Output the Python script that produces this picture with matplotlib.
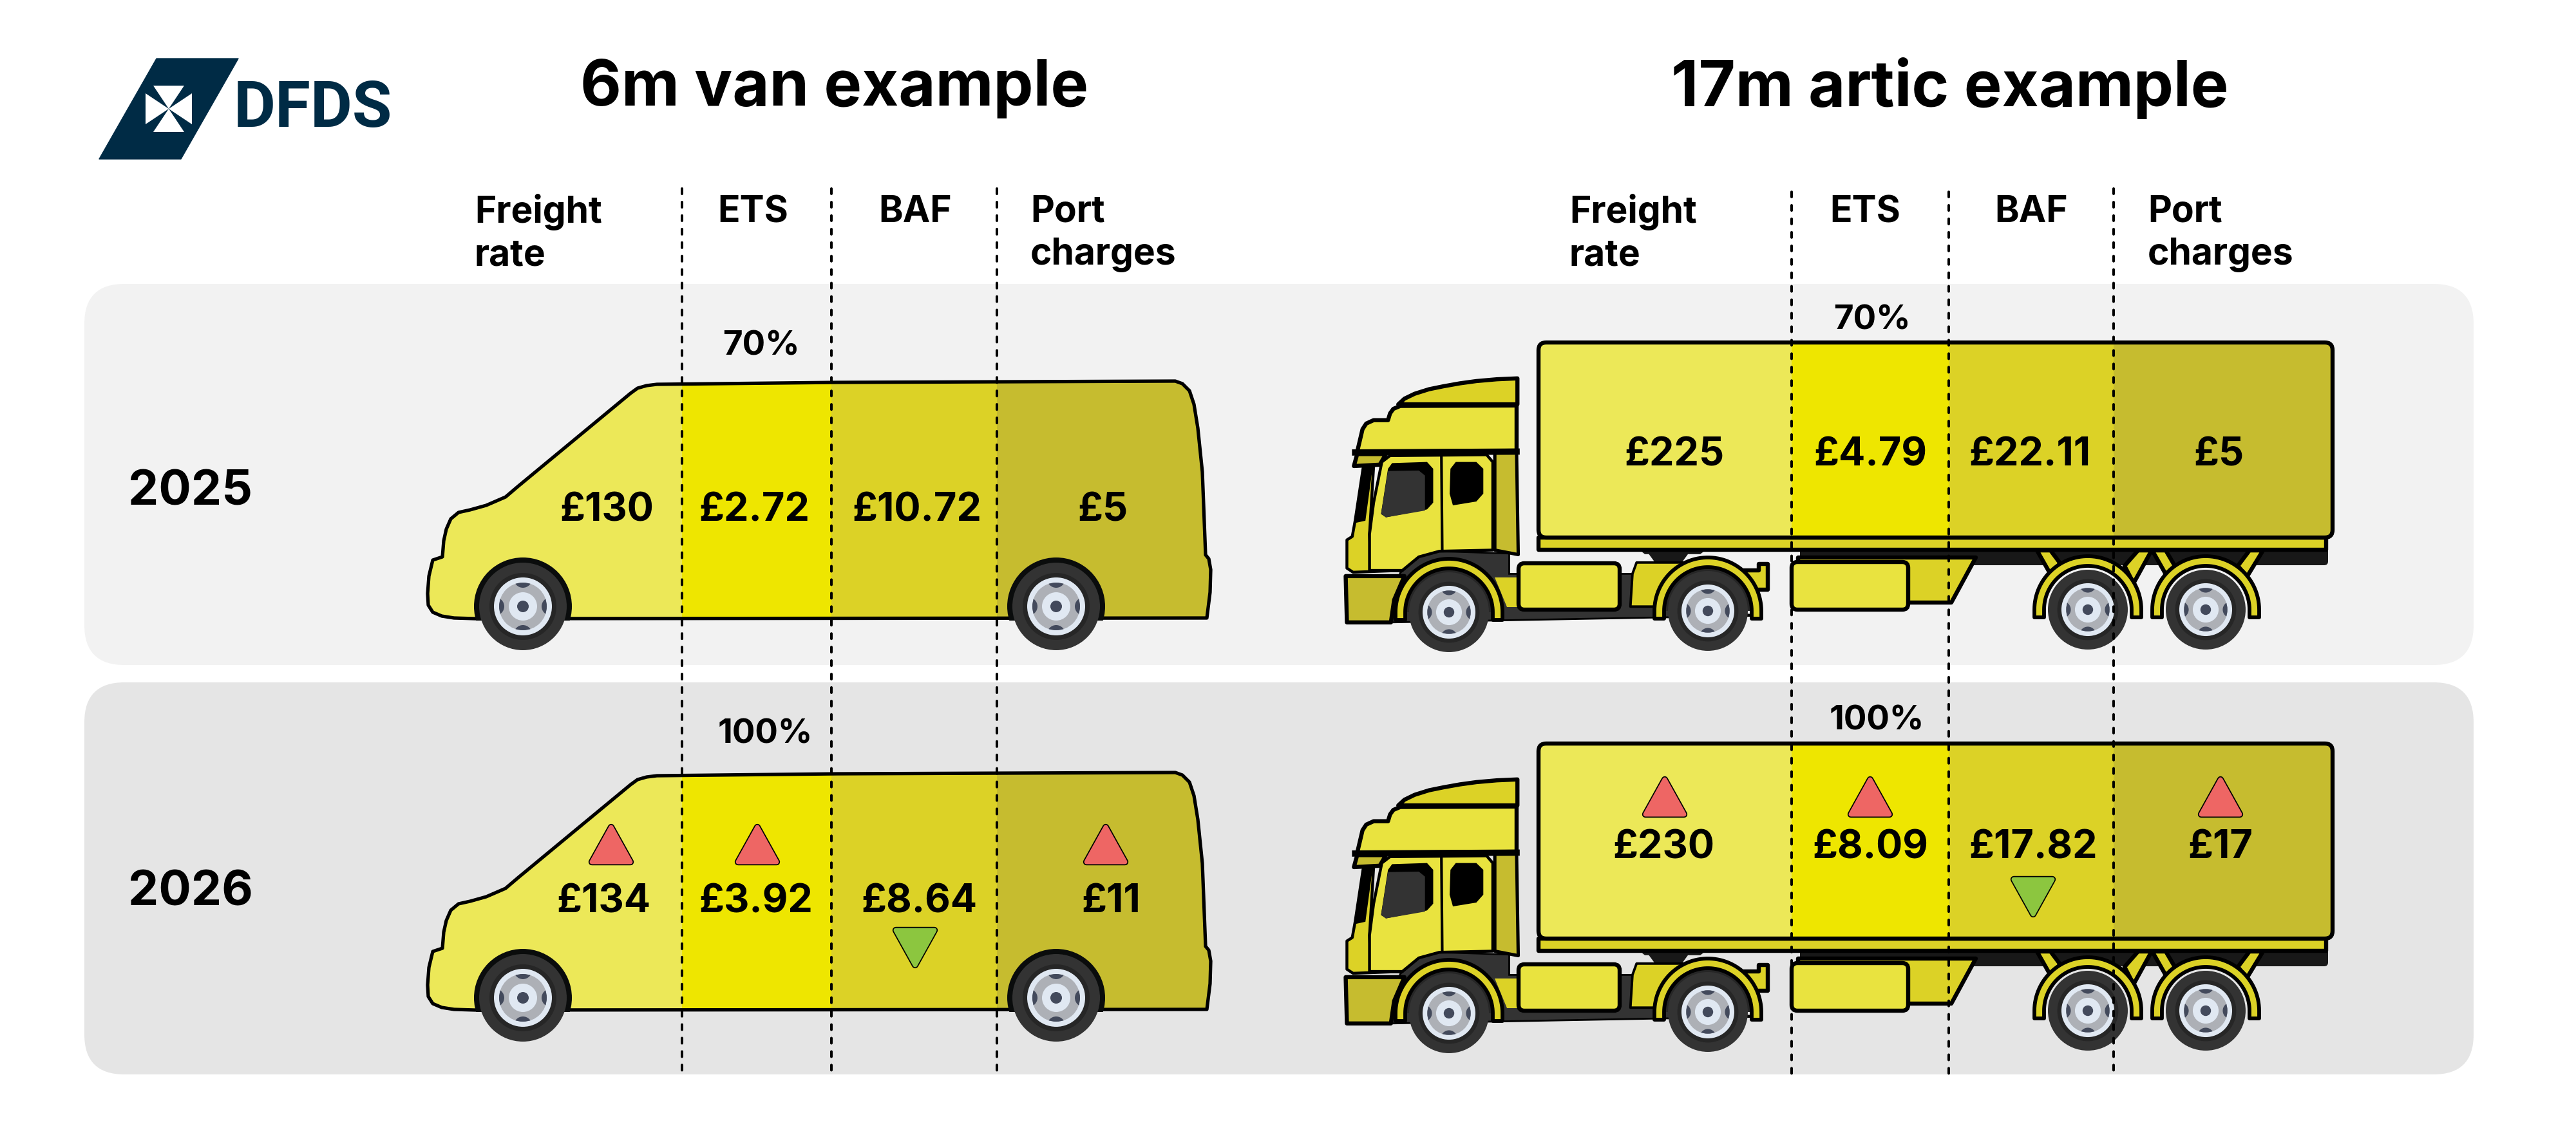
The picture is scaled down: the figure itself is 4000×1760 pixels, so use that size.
import numpy as np
import matplotlib
matplotlib.use("Agg")
import matplotlib.pyplot as plt
from matplotlib.patches import Polygon, Circle, Rectangle, FancyBboxPatch, Wedge

# ---- data ----
years = ["2025", "2026"]
columns = ["Freight\nrate", "ETS", "BAF", "Port\ncharges"]
titles = ["6m van example", "17m artic example"]
van_values = [["£130", "£2.72", "£10.72", "£5"], ["£134", "£3.92", "£8.64", "£11"]]
truck_values = [["£225", "£4.79", "£22.11", "£5"], ["£230", "£8.09", "£17.82", "£17"]]
ets_share = ["70%", "100%"]
change_2026_van = ["up", "up", "down", "up"]
change_2026_truck = ["up", "up", "down", "up"]

# ---- style ----
C_LIGHT, C_ETS, C_BAF, C_PORT = "#ece858", "#eee600", "#dcd226", "#c6bc2f"
C_CAB = "#e9e33f"
C_DARK = "#333333"
NAVY = "#002b45"
FONT = ["Inter", "Lato", "DejaVu Sans"]
plt.rcParams["font.family"] = FONT

fig = plt.figure(figsize=(40, 17.6), dpi=100)
ax = fig.add_axes([0, 0, 1, 1])
ax.set_xlim(0, 4000)
ax.set_ylim(1760, 0)
ax.axis("off")


def poly(pts, fc, ec="black", lw=3.6, z=5, **kw):
    p = Polygon(pts, closed=True, facecolor=fc, edgecolor=ec, linewidth=lw, zorder=z, joinstyle="round", **kw)
    ax.add_patch(p)
    return p


def panel(x0, y0, x1, y1, color):
    r = 62
    ax.add_patch(FancyBboxPatch((x0 + r, y0 + r), x1 - x0 - 2 * r, y1 - y0 - 2 * r,
                                boxstyle=f"round,pad={r},rounding_size={r}", fc=color, ec="none", zorder=1))


panel(131, 441, 3841, 1033, "#f2f2f2")
panel(131, 1060, 3841, 1669, "#e5e5e5")


def wheel(cx, cy, R=68, z=8):
    s = R / 68
    ax.add_patch(Circle((cx, cy), R, fc=C_DARK, ec="none", zorder=z))
    ax.add_patch(Circle((cx, cy), 52 * s, fc="#262626", ec="none", zorder=z))
    ax.add_patch(Circle((cx, cy), 45 * s, fc="#e0e8f2", ec="none", zorder=z))
    grey = Circle((cx, cy), 37 * s, fc="#adb0b6", ec="none", zorder=z)
    ax.add_patch(grey)
    for dx, dy in [(0, -1), (0, 1), (-1, 0), (1, 0)]:
        c = Circle((cx + 43 * s * dx, cy + 43 * s * dy), 14 * s, fc="#434a5c", ec="none", zorder=z)
        ax.add_patch(c)
        c.set_clip_path(grey)
    ax.add_patch(Circle((cx, cy), 22 * s, fc="#e0e8f2", ec="none", zorder=z))
    ax.add_patch(Circle((cx, cy), 9 * s, fc="#434a5c", ec="none", zorder=z))


# ---- van ----
VAN_SPLITS = [600, 1059, 1291, 1548, 1900]
VAN_OUTLINE = [(738, 961), (705, 960), (686, 957), (672, 951), (665, 940), (664, 922), (666, 895), (672, 870), (687, 865),
               (689, 840), (693, 822), (700, 806), (712, 796), (730, 792), (755, 785), (785, 772), (805, 755),
               (979, 611), (990, 603), (1004, 599), (1020, 597), (1300, 594), (1825, 592), (1836, 596), (1847, 607), (1854, 628), (1860, 665), (1867, 733),
               (1872, 862), (1877, 868), (1880, 885), (1879, 920), (1874, 960), (738, 961)]


def van(dy):
    outline = [(x, y + dy) for x, y in VAN_OUTLINE]
    clip = Polygon(outline, closed=True, transform=ax.transData, fc="none", ec="none")
    ax.add_patch(clip)
    for i, col in enumerate([C_LIGHT, C_ETS, C_BAF, C_PORT]):
        r = Rectangle((VAN_SPLITS[i], 560 + dy), VAN_SPLITS[i + 1] - VAN_SPLITS[i], 420, fc=col, ec="none", zorder=3)
        ax.add_patch(r)
        r.set_clip_path(clip)
    poly(outline, "none", lw=3.8, z=4)
    for cx in (812, 1640):
        ax.add_patch(Circle((cx, 942 + dy), 76, fc="#0a0c0c", ec="none", zorder=5))
        r = Rectangle((cx - 78, 961 + dy + 3), 156, 60, fc="#f2f2f2" if dy == 0 else "#e5e5e5", ec="none", zorder=5)
        ax.add_patch(r)
        wheel(cx, 942 + dy, 68)


# ---- truck ----
TRUCK_SPLITS = [2389, 2782, 3026, 3282, 3622]


def Z(pts, dy):
    return [(2050 + 0.638 * a, 500 + 0.351 * b + dy) for a, b in pts]


def fender(cx, cy, R=83, r=68, drop=12):
    th = np.radians(np.linspace(180, 360, 60))
    outer = [(cx + R * np.cos(t), cy + R * np.sin(t)) for t in th]
    inner = [(cx + r * np.cos(t), cy + r * np.sin(t)) for t in th[::-1]]
    pts = [(cx - R, cy + drop)] + outer + [(cx + R, cy + drop), (cx + r, cy + drop)] + inner + [(cx - r, cy + drop)]
    poly(pts, C_BAF, lw=4.2, z=7)


def truck(dy):
    lw = 4.6
    # trailer underside
    ax.add_patch(FancyBboxPatch((2795, 850 + dy), 3615 - 2795, 28, boxstyle="round,pad=0,rounding_size=6",
                                fc="#181818", ec="none", zorder=3))
    ax.add_patch(Polygon(Z([(778, 1010), (938, 1010), (925, 1028), (895, 1028), (880, 1065), (815, 1065), (800, 1028), (790, 1028)], dy),
                         closed=True, fc="#181818", ec="none", zorder=3))
    # skirt + side box
    poly([(2792, 866 + dy), (3068, 866 + dy), (3030, 936 + dy), (2960, 936 + dy), (2792, 936 + dy)], C_BAF, lw=lw, z=4)
    ax.add_patch(FancyBboxPatch((2782, 873 + dy), 181, 74, boxstyle="round,pad=0,rounding_size=9",
                                fc=C_CAB, ec="black", lw=lw, zorder=5))
    # struts + rear wheels
    cy = 947 + dy
    for cx, struts in [(3242, [[(-79, -92), (-58, -92), (-43, -72), (-58, -55)], [(78, -92), (99, -92), (71, -41), (57, -68)]]),
                       (3425, [[(-83, -92), (-62, -92), (-48, -68), (-62, -55)], [(68, -92), (89, -92), (64, -51), (50, -68)]])]:
        for s in struts:
            poly([(cx + a, cy + b) for a, b in s], C_BAF, lw=lw, z=4)
        fender(cx, cy)
        wheel(cx, cy, 62)
    # tractor chassis
    ax.add_patch(Polygon(Z([(195, 1110), (240, 1040), (290, 1015), (460, 1025), (460, 1115), (760, 1115), (760, 1260),
                            (815, 1260), (1070, 1300), (170, 1330), (170, 1250)], dy),
                         closed=True, fc=C_DARK, ec="black", lw=2, zorder=4))
    poly(Z([(425, 1130), (480, 1130), (480, 1262), (455, 1262)], dy), C_BAF, lw=0, ec="none", z=4.1)
    poly(Z([(62, 1125), (205, 1125), (180, 1230), (172, 1330), (65, 1330)], dy), C_PORT, lw=lw, z=4.2)
    poly(Z([(1030, 1100), (1068, 1100), (1068, 1072), (1090, 1072), (1090, 1185), (1050, 1185)], dy), C_BAF, lw=lw, z=4)
    poly(Z([(770, 1065), (885, 1065), (820, 1260), (755, 1260), (760, 1115)], dy), C_BAF, lw=lw * 0.6, z=4.3)
    ax.add_patch(FancyBboxPatch((2358, 875 + dy), 157, 72, boxstyle="round,pad=0,rounding_size=9",
                                fc=C_CAB, ec="black", lw=lw, zorder=5))
    # cab
    poly(Z([(190, 365), (205, 340), (230, 318), (265, 298), (300, 285), (340, 272), (380, 262), (430, 254), (480, 250), (480, 365)], dy), C_BAF, lw=lw, z=5)
    poly(Z([(165, 435), (130, 435), (112, 450), (103, 475), (90, 575), (478, 570), (478, 370), (195, 372), (178, 385), (170, 405)], dy), C_CAB, lw=lw, z=5)
    poly(Z([(90, 585), (160, 585), (145, 632), (82, 638)], dy), C_PORT, lw=lw, z=5)
    poly(Z([(105, 640), (85, 880), (78, 950), (65, 965), (65, 1090), (80, 1108), (200, 1100), (125, 1100), (120, 940), (130, 640)], dy), C_BAF, lw=lw * 0.7, z=5)
    poly(Z([(105, 640), (128, 640), (110, 880), (85, 890)], dy), "black", lw=0, z=5.1)
    poly(Z([(425, 580), (478, 580), (482, 1030), (425, 1010)], dy), C_PORT, lw=lw * 0.8, z=5)
    poly(Z([(150, 620), (170, 592), (290, 590), (405, 588), (420, 620), (420, 1010), (290, 1015), (240, 1040), (200, 1100), (120, 1100), (120, 940), (130, 800)], dy), C_CAB, lw=lw * 0.7, z=5.2)
    ax.plot(*zip(*Z([(295, 590), (297, 1012)], dy)), color="black", lw=3, zorder=5.3)
    ax.plot(*zip(*Z([(85, 578), (478, 574)], dy)), color="black", lw=7, zorder=5.3)
    poly(Z([(175, 625), (260, 620), (275, 650), (275, 800), (260, 830), (160, 865), (148, 850), (165, 650)], dy), "black", lw=0, ec="none", z=5.3)
    poly(Z([(165, 660), (240, 658), (255, 680), (255, 835), (160, 865), (148, 850)], dy), C_DARK, lw=0, ec="none", z=5.4)
    poly(Z([(330, 620), (380, 620), (397, 650), (397, 760), (380, 795), (323, 812), (315, 760), (317, 650)], dy), "black", lw=0, ec="none", z=5.3)
    for cx, wy in [(2250, 951), (2652, 949)]:
        ax.add_patch(Wedge((cx, wy + dy), 74, 180, 360, fc="#262626", ec="none", zorder=6))
        fender(cx, wy + dy)
        wheel(cx, wy + dy, 62)
    # trailer box
    poly([(2389, 835 + dy), (3612, 835 + dy), (3612, 854 + dy), (2389, 854 + dy)], C_BAF, lw=lw, z=6)
    box = FancyBboxPatch((2389, 532 + dy), 3622 - 2389, 303, boxstyle="round,pad=0,rounding_size=12",
                         fc="none", ec="black", lw=lw, zorder=6.5, mutation_aspect=1)
    ax.add_patch(box)
    for i, col in enumerate([C_LIGHT, C_ETS, C_BAF, C_PORT]):
        r = Rectangle((TRUCK_SPLITS[i], 532 + dy), TRUCK_SPLITS[i + 1] - TRUCK_SPLITS[i], 303, fc=col, ec="none", zorder=6)
        ax.add_patch(r)
        r.set_clip_path(box)


def triangle(cx, cy, direction, w=60, h=54):
    sign = 1 if direction == "up" else -1
    pts = [(cx, cy - sign * h / 2), (cx + w / 2, cy + sign * h / 2), (cx - w / 2, cy + sign * h / 2)]
    col = "#ee6664" if direction == "up" else "#8cc63f"
    ax.add_patch(Polygon(pts, closed=True, fc="black", ec="black", lw=7.5, joinstyle="round", zorder=9))
    ax.add_patch(Polygon(pts, closed=True, fc=col, ec=col, lw=5, joinstyle="round", zorder=9.1))


van(0)
van(608)
truck(0)
truck(623)

# dashed separators
for x, y0 in [(1059, 293), (1291, 293), (1548, 293), (2782, 298), (3026, 298), (3282, 293)]:
    ax.plot([x, x], [y0, 1670], color="black", lw=2.9, dashes=(2.0, 3.2), dash_capstyle="round", zorder=10)

# ---- text ----
W = "bold"


def txt(x, y, s, size, ha="center", weight=W, **kw):
    return ax.text(x, y, s, fontsize=size, ha=ha, va="center", weight=weight, color="black", zorder=11, **kw)


txt(1296, 137, titles[0], 71)
txt(3028, 137, titles[1], 71)
for x, y, i, ha in [(737, 363, 0, "left"), (1169, 330, 1, "center"), (1421, 330, 2, "center"), (1600, 363, 3, "left"),
                    (2437, 363, 0, "left"), (2896, 330, 1, "center"), (3154, 330, 2, "center"), (3335, 363, 3, "left")]:
    ax.text(x, y, columns[i], fontsize=41, ha=ha, va="center", weight="bold", linespacing=1.3, zorder=11)
txt(199, 765, years[0], 54, ha="left")
txt(199, 1387, years[1], 54, ha="left")
for x, y, s in [(1182, 538, ets_share[0]), (1188, 1141, ets_share[1]), (2907, 498, ets_share[0]), (2914, 1120, ets_share[1])]:
    ax.text(x, y, s, fontsize=38, ha="center", va="center", weight="bold", zorder=11)
for row, y, xs in [(0, 794, [942, 1171, 1424, 1712]), (1, 1401, [937, 1174, 1427, 1725])]:
    for x, s in zip(xs, van_values[row]):
        txt(x, y, s, 44)
for row, y, xs in [(0, 707, [2600, 2904, 3152, 3445]), (1, 1317, [2583, 2904, 3157, 3448])]:
    for x, s in zip(xs, truck_values[row]):
        txt(x, y, s, 44)
for x, d in zip([949, 1176, 1421, 1717], change_2026_van):
    triangle(x, 1312 if d == "up" else 1472, d)
for x, d in zip([2585, 2904, 3157, 3448], change_2026_truck):
    triangle(x, 1238 if d == "up" else 1393, d)

# ---- logo ----
poly([(243, 91), (370, 91), (281, 247), (154, 247)], NAVY, ec=NAVY, lw=1, z=5)
cx, cy = 262, 169
for ang in (0, 90, 180, 270):
    a = np.radians(ang)
    rot = lambda u, v: (cx + u * np.cos(a) - v * np.sin(a), cy + u * np.sin(a) + v * np.cos(a))
    ax.add_patch(Polygon([rot(0, 0), rot(36, -24), rot(36, 24)], closed=True, fc="white", ec="none", zorder=6))
ax.text(486, 170, "DFDS", fontsize=72, color=NAVY, ha="center", va="center", weight="bold",
        family=["Roboto", "DejaVu Sans"], zorder=6)

fig.savefig("out.png", dpi=100)
